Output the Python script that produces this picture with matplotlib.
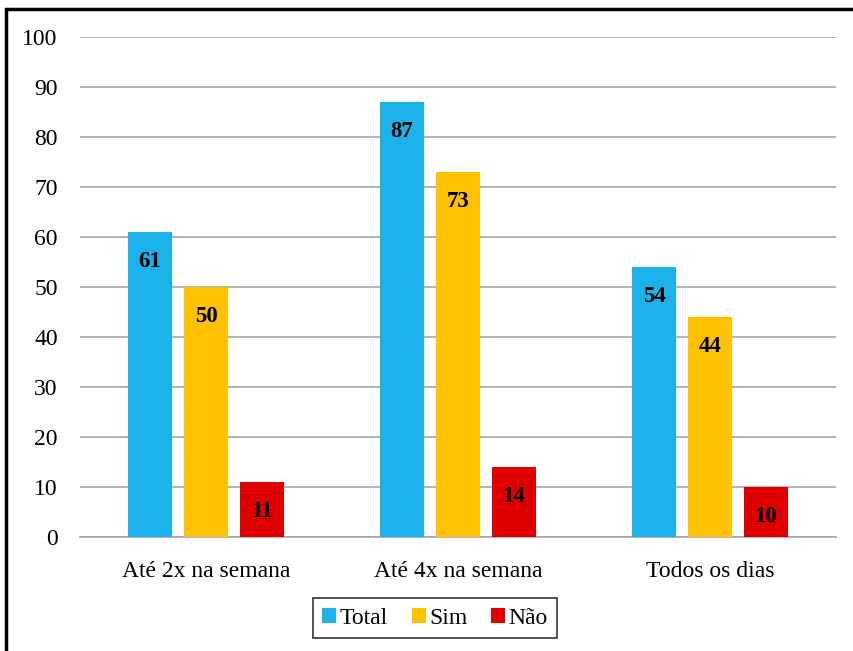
import numpy as np
import matplotlib.pyplot as plt
from matplotlib.patches import Rectangle

# Data
categories = ['Até 2x na semana', 'Até 4x na semana', 'Todos os dias']
series_names = ['Total', 'Sim', 'Não']
total = [61, 87, 54]
sim = [50, 73, 44]
nao = [11, 14, 10]
colors = ['#1BB1EA', '#FFC000', '#E00000']

plt.rcParams['font.family'] = ['Liberation Serif', 'DejaVu Serif']

fig = plt.figure(figsize=(8.54, 6.51), dpi=100)
ax = fig.add_axes([80 / 854, 1 - 537 / 651, 756 / 854, 500 / 651])

x = np.arange(len(categories))
width = 0.175
step = 0.222
for i, (vals, name) in enumerate(zip([total, sim, nao], series_names)):
    bars = ax.bar(x + (i - 1) * step, vals, width, color=colors[i], label=name, zorder=3)
    for b, v in zip(bars, vals):
        ax.annotate(str(v), (b.get_x() + b.get_width() / 2, v),
                    xytext=(0, -21), textcoords='offset points',
                    ha='center', va='center', fontsize=16.5, fontweight='bold',
                    color='black', zorder=4)

ax.set_xlim(-0.5, 2.5)
ax.set_ylim(0, 100)
ax.set_yticks(range(0, 101, 10))
ax.set_xticks(x)
ax.set_xticklabels(categories, fontsize=17)
ax.tick_params(axis='y', labelsize=17, length=0, pad=16)
ax.tick_params(axis='x', length=0, pad=17)
ax.yaxis.grid(True, color='#A6A6A6', linewidth=1.2, zorder=0)
for s in ['top', 'right', 'left']:
    ax.spines[s].set_visible(False)
ax.spines['bottom'].set_color('#A6A6A6')
ax.spines['bottom'].set_linewidth(1.2)

leg = fig.legend(loc='center', bbox_to_anchor=(435 / 854, 1 - 618 / 651),
                 ncol=3, fontsize=17, frameon=True, fancybox=False,
                 handlelength=0.6, handleheight=0.6, handletextpad=0.15,
                 columnspacing=1.0, borderpad=0.4)
leg.get_frame().set_edgecolor('black')
leg.get_frame().set_linewidth(1.2)

# outer frame (cut off at right and bottom in the original)
fig.add_artist(Rectangle((6 / 854, -0.05), 1.2, 1 - 9 / 651 + 0.05,
                         transform=fig.transFigure, fill=False,
                         edgecolor='black', linewidth=2.5))

fig.savefig('out.png', dpi=100)
